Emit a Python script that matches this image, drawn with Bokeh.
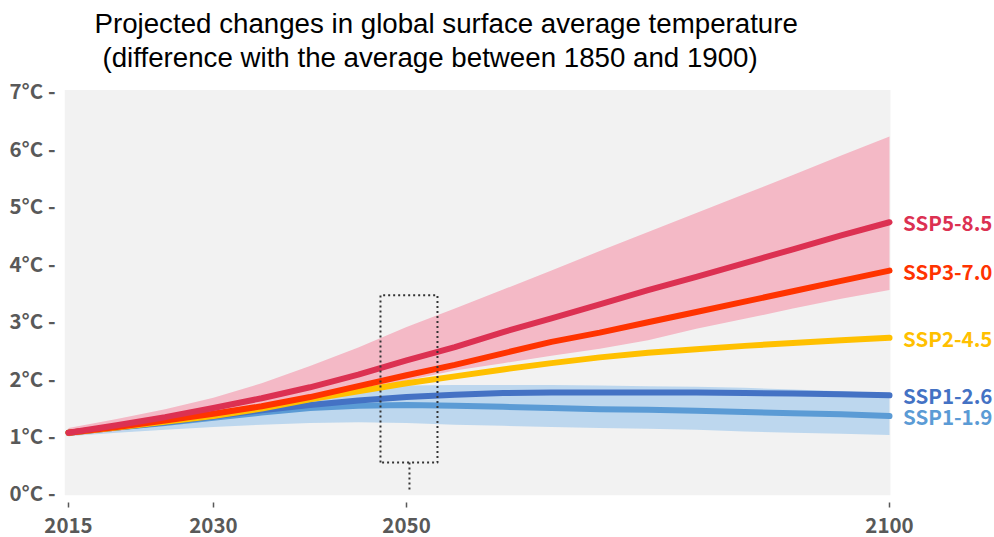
from bokeh.plotting import figure
from bokeh.models import FixedTicker, Range1d
from bokeh.core.properties import value
from bokeh.embed import file_html
from bokeh.resources import INLINE

# ---------------- data ----------------
title_lines = ["Projected changes in global surface average temperature",
               "(difference with the average between 1850 and 1900)"]

years = [2015, 2020, 2025, 2030, 2035, 2040, 2045, 2050, 2055,
         2060, 2065, 2070, 2075, 2080, 2085, 2090, 2095, 2100]

ssp119 = [1.04, 1.13, 1.21, 1.30, 1.39, 1.47, 1.51, 1.52, 1.51,
          1.49, 1.47, 1.45, 1.44, 1.42, 1.40, 1.38, 1.36, 1.33]
ssp126 = [1.04, 1.13, 1.22, 1.32, 1.43, 1.52, 1.60, 1.66, 1.70,
          1.73, 1.74, 1.74, 1.74, 1.74, 1.73, 1.72, 1.71, 1.69]
ssp245 = [1.04, 1.13, 1.23, 1.33, 1.46, 1.62, 1.76, 1.90, 2.02,
          2.14, 2.25, 2.35, 2.43, 2.49, 2.55, 2.60, 2.65, 2.69]
ssp370 = [1.04, 1.14, 1.25, 1.37, 1.50, 1.66, 1.85, 2.04, 2.22,
          2.42, 2.62, 2.78, 2.96, 3.14, 3.32, 3.50, 3.68, 3.86]
ssp585 = [1.04, 1.17, 1.31, 1.47, 1.64, 1.83, 2.05, 2.30, 2.53,
          2.79, 3.03, 3.27, 3.52, 3.75, 3.99, 4.23, 4.47, 4.70]

# likely ranges (shaded bands)
ssp585_upper = [1.12, 1.28, 1.45, 1.65, 1.90, 2.20, 2.52, 2.88, 3.20,
                3.53, 3.86, 4.20, 4.53, 4.86, 5.19, 5.52, 5.86, 6.19]
ssp585_lower = [0.98, 1.07, 1.17, 1.28, 1.42, 1.58, 1.76, 1.95, 2.12,
                2.25, 2.38, 2.50, 2.65, 2.85, 3.02, 3.20, 3.37, 3.52]
ssp119_upper = [1.06, 1.17, 1.29, 1.42, 1.56, 1.70, 1.80, 1.86, 1.87,
                1.87, 1.87, 1.86, 1.85, 1.84, 1.82, 1.79, 1.76, 1.72]
ssp119_lower = [0.98, 1.04, 1.09, 1.14, 1.18, 1.21, 1.22, 1.21, 1.18,
                1.16, 1.14, 1.12, 1.11, 1.09, 1.06, 1.04, 1.02, 1.00]

scenario_names = ["SSP1-1.9", "SSP1-2.6", "SSP2-4.5", "SSP3-7.0", "SSP5-8.5"]
scenario_values = [ssp119, ssp126, ssp245, ssp370, ssp585]
scenario_colors = ["#5B9BD5", "#4472C4", "#FFC000", "#FF3300", "#DC3152"]

x_ticks = [2015, 2030, 2050, 2100]
y_ticks = [0, 1, 2, 3, 4, 5, 6, 7]
y_tick_labels = ["0°C -", "1°C -", "2°C -", "3°C -", "4°C -", "5°C -", "6°C -", "7°C -"]

highlight_years = [2047.3, 2053.2]
highlight_temps = [0.52, 3.43]
highlight_year = 2050.3

# ---------------- figure ----------------
FONT = "Noto Sans CJK JP"
GREY = "#595959"

p = figure(width=994, height=537, output_backend="svg", toolbar_location=None,
           x_range=Range1d(2014.586, 2110.87), y_range=Range1d(-0.174, 8.557),
           min_border_left=64, min_border_right=0, min_border_top=0,
           min_border_bottom=35)
p.outline_line_color = None
p.grid.visible = False
p.background_fill_color = "white"
p.border_fill_color = "white"

# plotting area background
p.quad(left=years[0] - 0.41, right=years[-1] + 0.1, bottom=y_ticks[0] - 0.05,
       top=y_ticks[-1], fill_color="#F2F2F2", line_color=None)

# shaded ranges
p.varea(x=years, y1=ssp119_lower, y2=ssp119_upper, fill_color="#BDD7EE")
p.varea(x=years, y1=ssp585_lower, y2=ssp585_upper, fill_color="#F4B9C6")

# scenario lines
for vals, col in zip(scenario_values, scenario_colors):
    p.line(x=years, y=vals, line_color=col, line_width=6,
           line_cap="round", line_join="round")

# end labels
p.text(x=[years[-1] + 1.4] * len(scenario_names),
       y=[v[-1] for v in scenario_values],
       text=scenario_names, text_color=scenario_colors,
       text_font=value(FONT), text_font_size="20.5px", text_font_style="bold",
       text_baseline="middle", text_align="left")

# dotted highlight box around 2050
bx = [highlight_years[0], highlight_years[0], highlight_years[1], highlight_years[1], highlight_years[0]]
by = [highlight_temps[0], highlight_temps[1], highlight_temps[1], highlight_temps[0], highlight_temps[0]]
p.line(x=bx, y=by, line_color="#333333", line_width=2, line_dash="2 3", line_join="round")
p.line(x=[highlight_year, highlight_year], y=[highlight_temps[0], y_ticks[0]],
       line_color="#333333", line_width=2, line_dash="2 3")

# title
p.text(x=[2017.69, 2018.52], y=[8.15, 7.56], text=title_lines,
       text_color="black", text_font=value("Liberation Sans"),
       text_font_size="27.7px", text_baseline="alphabetic", text_align="left")

# axes
p.yaxis.ticker = FixedTicker(ticks=y_ticks)
p.yaxis.major_label_overrides = {t: lab for t, lab in zip(y_ticks, y_tick_labels)}
p.yaxis.axis_line_color = None
p.yaxis.major_tick_line_color = None
p.yaxis.minor_tick_line_color = None
p.yaxis.major_tick_in = 0
p.yaxis.major_tick_out = 0
p.yaxis.major_label_standoff = 9
p.yaxis.major_label_text_font = FONT
p.yaxis.major_label_text_font_style = "bold"
p.yaxis.major_label_text_font_size = "20.5px"
p.yaxis.major_label_text_color = GREY

p.xaxis.ticker = FixedTicker(ticks=x_ticks)
p.xaxis.axis_line_color = None
p.xaxis.minor_tick_line_color = None
p.xaxis.major_tick_line_color = GREY
p.xaxis.major_tick_line_width = 1.5
p.xaxis.major_tick_in = 0
p.xaxis.major_tick_out = 5
p.xaxis.major_label_standoff = 10
p.xaxis.major_label_text_font = FONT
p.xaxis.major_label_text_font_style = "bold"
p.xaxis.major_label_text_font_size = "20.5px"
p.xaxis.major_label_text_color = GREY

open("out.html", "w").write(file_html(p, INLINE))
